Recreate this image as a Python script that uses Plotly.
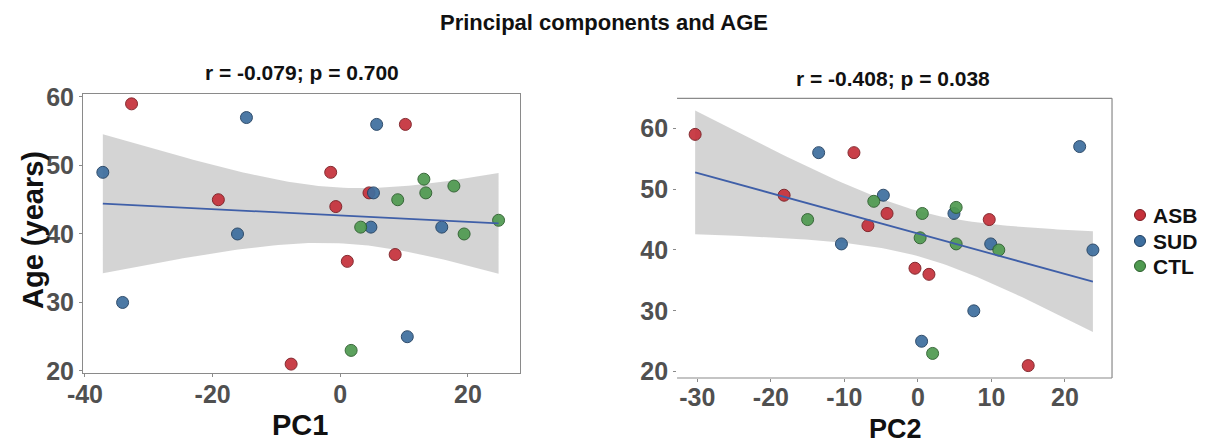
import numpy as np
import plotly.graph_objects as go

# Per-group measurements: age plus first two principal component scores
groups = ["ASB", "SUD", "CTL"]
colors = {"ASB": "#C5303A", "SUD": "#3D6E9E", "CTL": "#4F9A50"}
edge_colors = {"ASB": "#7A1A20", "SUD": "#203F60", "CTL": "#2C5E2D"}

asb_age = [59, 56, 49, 46, 45, 44, 37, 36, 21]
asb_pc1 = [-32.7, 10.2, -1.5, 4.5, -19.1, -0.7, 8.6, 1.1, -7.7]
asb_pc2 = [-30.3, -8.7, -18.2, -4.2, 9.7, -6.8, -0.4, 1.5, 15.0]

sud_age = [57, 56, 49, 46, 41, 41, 40, 30, 25]
sud_pc1 = [-14.7, 5.7, -37.2, 5.2, 4.8, 15.9, -16.1, -34.1, 10.5]
sud_pc2 = [22.0, -13.5, -4.7, 4.9, -10.4, 9.9, 23.8, 7.6, 0.5]

ctl_age = [48, 47, 46, 45, 42, 41, 40, 23]
ctl_pc1 = [13.1, 17.8, 13.4, 9.0, 24.8, 3.2, 19.4, 1.7]
ctl_pc2 = [-6.0, 5.2, 0.6, -15.0, 0.3, 5.2, 11.0, 2.0]

panel_titles = ["r = -0.079; p = 0.700", "r = -0.408; p = 0.038"]
x_ticks_pc1 = [-40, -20, 0, 20]
x_ticks_pc2 = [-30, -20, -10, 0, 10, 20]
y_ticks = [20, 30, 40, 50, 60]

data = {
    "ASB": (asb_age, asb_pc1, asb_pc2),
    "SUD": (sud_age, sud_pc1, sud_pc2),
    "CTL": (ctl_age, ctl_pc1, ctl_pc2),
}

all_age = np.array(asb_age + sud_age + ctl_age, dtype=float)
all_pc1 = np.array(asb_pc1 + sud_pc1 + ctl_pc1, dtype=float)
all_pc2 = np.array(asb_pc2 + sud_pc2 + ctl_pc2, dtype=float)

T_CRIT = 2.064  # 97.5% quantile of Student t, 24 degrees of freedom


def linear_fit_band(x, y, n_grid=80):
    """Least-squares line with 95% confidence band for the mean."""
    n = len(x)
    slope, intercept = np.polyfit(x, y, 1)
    resid = y - (slope * x + intercept)
    s = np.sqrt(np.sum(resid ** 2) / (n - 2))
    xm = x.mean()
    sxx = np.sum((x - xm) ** 2)
    gx = np.linspace(x.min(), x.max(), n_grid)
    gy = slope * gx + intercept
    se = s * np.sqrt(1.0 / n + (gx - xm) ** 2 / sxx)
    return gx, gy, gy - T_CRIT * se, gy + T_CRIT * se


def tick_text(vals):
    # plain hyphen-minus labels
    return [str(v) for v in vals]


W, H = 1214, 443
FONT = "Liberation Sans, Arial, sans-serif"
fig = go.Figure()

for idx, (xvals, xa, ya) in enumerate([(all_pc1, "x", "y"), (all_pc2, "x2", "y2")]):
    gx, gy, lo, hi = linear_fit_band(xvals, all_age)
    fig.add_trace(go.Scatter(
        x=np.concatenate([gx, gx[::-1]]), y=np.concatenate([hi, lo[::-1]]),
        fill="toself", fillcolor="rgba(205,205,205,0.85)", line=dict(width=0),
        mode="lines", hoverinfo="skip", showlegend=False, xaxis=xa, yaxis=ya))
    for g in groups:
        age, p1, p2 = data[g]
        fig.add_trace(go.Scatter(
            x=p1 if idx == 0 else p2, y=age, mode="markers", name=g,
            showlegend=False,
            marker=dict(size=12, color=colors[g], opacity=0.92,
                        line=dict(color=edge_colors[g], width=1)),
            xaxis=xa, yaxis=ya))
    fig.add_trace(go.Scatter(
        x=gx, y=gy, mode="lines", line=dict(color="#3F5FA8", width=1.8),
        hoverinfo="skip", showlegend=False, xaxis=xa, yaxis=ya))

tick_font = dict(family=FONT, size=25, color="#505050", weight="bold")
axis_common = dict(showgrid=False, zeroline=False, ticks="outside", ticklen=3,
                   tickcolor="#8a8a8a", tickfont=tick_font, automargin=False)

fig.update_layout(
    width=W, height=H,
    margin=dict(l=0, r=0, t=0, b=0, autoexpand=False),
    paper_bgcolor="white", plot_bgcolor="white",
    showlegend=False,
    xaxis=dict(domain=[0.0684, 0.4283], range=[-40.3, 28.15],
               tickvals=x_ticks_pc1, ticktext=tick_text(x_ticks_pc1),
               ticklabelstandoff=-4,
               showline=True, linecolor="#8a8a8a",
               mirror=True, linewidth=1.2, anchor="y", **axis_common),
    yaxis=dict(domain=[0.158, 0.788], range=[19.7, 60.45],
               tickvals=y_ticks, ticktext=tick_text(y_ticks),
               showline=True, linecolor="#8a8a8a",
               mirror=True, linewidth=1.2, anchor="x", **axis_common),
    xaxis2=dict(domain=[0.5577, 0.916], range=[-32.76, 26.4],
                tickvals=x_ticks_pc2, ticktext=tick_text(x_ticks_pc2),
                ticklabelstandoff=-6,
                showline=False, anchor="y2", **axis_common),
    yaxis2=dict(domain=[0.1467, 0.7781], range=[18.96, 64.93],
                tickvals=y_ticks, ticktext=tick_text(y_ticks),
                showline=False, anchor="x2", **axis_common),
)

# Frame of the right panel: top, right and bottom edges
for x0, y0, x1, y1 in [(0, 1, 1, 1), (1, 0, 1, 1), (0, 0, 1, 0)]:
    fig.add_shape(type="line", xref="x2 domain", yref="y2 domain",
                  x0=x0, y0=y0, x1=x1, y1=y1,
                  line=dict(color="#8a8a8a", width=1.2))

# Group key at the right-hand side
legend_rows = [215, 241, 266]
for g, ypx in zip(groups, legend_rows):
    fig.add_shape(type="circle", xref="paper", yref="paper",
                  xsizemode="pixel", ysizemode="pixel",
                  xanchor=1140 / W, yanchor=1 - ypx / H,
                  x0=-5.5, x1=5.5, y0=-5.5, y1=5.5,
                  fillcolor=colors[g], line=dict(color=edge_colors[g], width=1))
    fig.add_annotation(text=g, xref="paper", yref="paper", showarrow=False,
                       x=1151 / W, y=1 - ypx / H, xanchor="left", yanchor="middle",
                       font=dict(family=FONT, size=21, color="#111111", weight="bold"))

title_font = dict(family=FONT, size=22, color="#111111", weight="bold")
sub_font = dict(family=FONT, size=21, color="#111111", weight="bold")
axis_title_font = dict(family=FONT, size=29, color="#111111", weight="bold")
annotations = [
    dict(text="Principal components and AGE", x=604 / W, y=1 - 22 / H, font=title_font),
    dict(text=panel_titles[0], x=302 / W, y=1 - 72 / H, font=sub_font),
    dict(text=panel_titles[1], x=893 / W, y=1 - 78 / H, font=sub_font),
    dict(text="PC1", x=300 / W, y=1 - 425 / H, font=axis_title_font),
    dict(text="PC2", x=895 / W, y=1 - 429 / H,
         font=dict(family=FONT, size=27, color="#111111", weight="bold")),
    dict(text="Age (years)", x=33 / W, y=1 - 230 / H, textangle=-90, font=axis_title_font),
]
for a in annotations:
    fig.add_annotation(xref="paper", yref="paper", showarrow=False,
                       xanchor="center", yanchor="middle", **a)

fig.write_html("out.html")
